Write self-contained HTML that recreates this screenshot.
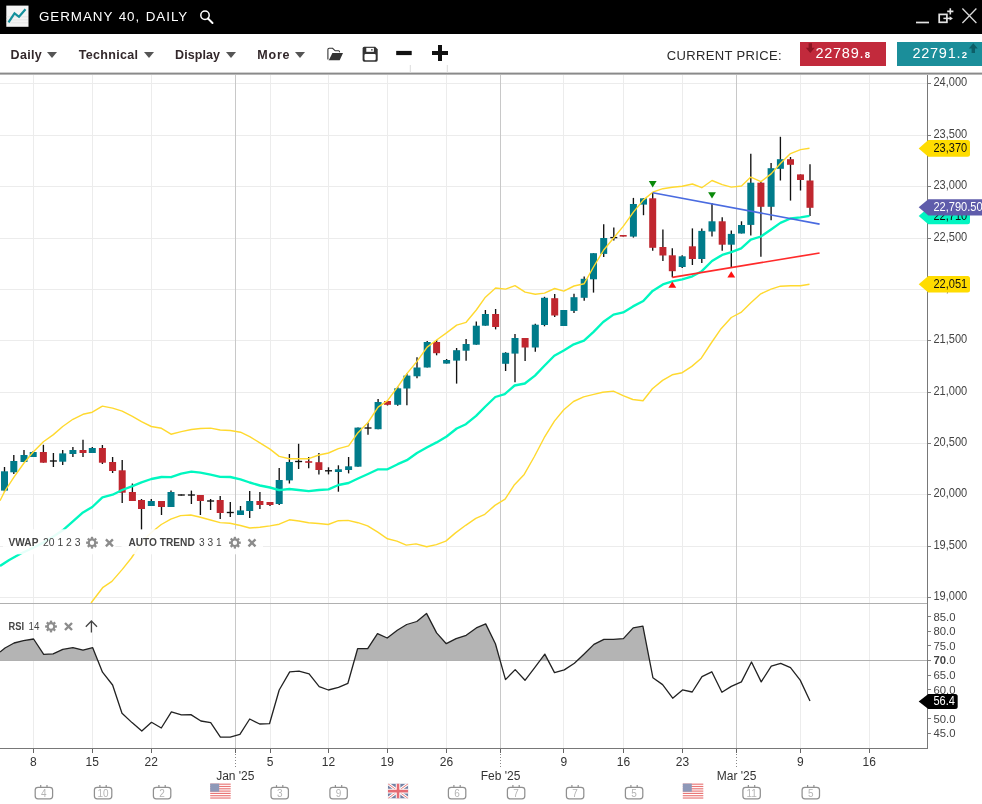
<!DOCTYPE html>
<html><head><meta charset="utf-8"><title>Germany 40, Daily</title>
<style>
html,body{margin:0;padding:0;background:#fff;}
body{width:982px;height:804px;position:relative;overflow:hidden;font-family:"Liberation Sans",sans-serif;}
.abs{position:absolute;white-space:nowrap;}
#hdr{left:0;top:0;width:982px;height:34.2px;background:#000;}
#title{left:39px;top:7.5px;color:#fff;font-size:13.4px;letter-spacing:0.95px;word-spacing:0.9px;line-height:17px;}
.tb{top:47px;font-size:12.5px;font-weight:bold;color:#33282b;line-height:16px;}
.arr{top:52.4px;width:0;height:0;border-left:5.6px solid transparent;border-right:5.6px solid transparent;border-top:6.2px solid #555;}
.ind{font-size:10.6px;color:#444;line-height:14px;background:rgba(255,255,255,0.82);padding:1px 3px;}
.ind b{color:#444;}
</style></head><body>
<svg width="982" height="804" viewBox="0 0 982 804" style="position:absolute;left:0;top:0">
<g stroke="#ececec" stroke-width="1" shape-rendering="crispEdges">
<rect x="0" y="83" width="928" height="1" fill="#ececec" stroke="none"/>
<rect x="0" y="135" width="928" height="1" fill="#ececec" stroke="none"/>
<rect x="0" y="186" width="928" height="1" fill="#ececec" stroke="none"/>
<rect x="0" y="238" width="928" height="1" fill="#ececec" stroke="none"/>
<rect x="0" y="289" width="928" height="1" fill="#ececec" stroke="none"/>
<rect x="0" y="340" width="928" height="1" fill="#ececec" stroke="none"/>
<rect x="0" y="392" width="928" height="1" fill="#ececec" stroke="none"/>
<rect x="0" y="443" width="928" height="1" fill="#ececec" stroke="none"/>
<rect x="0" y="494" width="928" height="1" fill="#ececec" stroke="none"/>
<rect x="0" y="546" width="928" height="1" fill="#ececec" stroke="none"/>
<rect x="0" y="597" width="928" height="1" fill="#ececec" stroke="none"/>
<rect x="33" y="75" width="1" height="673" fill="#ececec" stroke="none"/>
<rect x="92" y="75" width="1" height="673" fill="#ececec" stroke="none"/>
<rect x="151" y="75" width="1" height="673" fill="#ececec" stroke="none"/>
<rect x="269.5" y="75" width="1" height="673" fill="#ececec" stroke="none"/>
<rect x="328" y="75" width="1" height="673" fill="#ececec" stroke="none"/>
<rect x="387" y="75" width="1" height="673" fill="#ececec" stroke="none"/>
<rect x="446" y="75" width="1" height="673" fill="#ececec" stroke="none"/>
<rect x="563.3" y="75" width="1" height="673" fill="#ececec" stroke="none"/>
<rect x="623" y="75" width="1" height="673" fill="#ececec" stroke="none"/>
<rect x="682" y="75" width="1" height="673" fill="#ececec" stroke="none"/>
<rect x="800" y="75" width="1" height="673" fill="#ececec" stroke="none"/>
<rect x="869" y="75" width="1" height="673" fill="#ececec" stroke="none"/>
</g>
<g stroke="#c8c8c8" stroke-width="1" shape-rendering="crispEdges">
<rect x="235" y="75" width="1" height="673" fill="#c8c8c8" stroke="none"/>
<rect x="500.3" y="75" width="1" height="673" fill="#c8c8c8" stroke="none"/>
<rect x="736.2" y="75" width="1" height="673" fill="#c8c8c8" stroke="none"/>
</g>
<rect x="0" y="603.5" width="927" height="144" fill="#fff"/>
<g stroke="#ececec" stroke-width="1" shape-rendering="crispEdges">
<rect x="33" y="604" width="1" height="144" fill="#ececec" stroke="none"/>
<rect x="92" y="604" width="1" height="144" fill="#ececec" stroke="none"/>
<rect x="151" y="604" width="1" height="144" fill="#ececec" stroke="none"/>
<rect x="269.5" y="604" width="1" height="144" fill="#ececec" stroke="none"/>
<rect x="328" y="604" width="1" height="144" fill="#ececec" stroke="none"/>
<rect x="387" y="604" width="1" height="144" fill="#ececec" stroke="none"/>
<rect x="446" y="604" width="1" height="144" fill="#ececec" stroke="none"/>
<rect x="563.3" y="604" width="1" height="144" fill="#ececec" stroke="none"/>
<rect x="623" y="604" width="1" height="144" fill="#ececec" stroke="none"/>
<rect x="682" y="604" width="1" height="144" fill="#ececec" stroke="none"/>
<rect x="800" y="604" width="1" height="144" fill="#ececec" stroke="none"/>
<rect x="869" y="604" width="1" height="144" fill="#ececec" stroke="none"/>
</g><g stroke="#c8c8c8" stroke-width="1" shape-rendering="crispEdges">
<rect x="235" y="604" width="1" height="144" fill="#c8c8c8" stroke="none"/>
<rect x="500.3" y="604" width="1" height="144" fill="#c8c8c8" stroke="none"/>
<rect x="736.2" y="604" width="1" height="144" fill="#c8c8c8" stroke="none"/>
</g>
<g>
<line x1="4.5" y1="467" x2="4.5" y2="491.6" stroke="#111" stroke-width="1.35"/>
<rect x="1.0" y="471.3" width="7" height="19.3" fill="#007b8a"/>
<line x1="13.8" y1="455" x2="13.8" y2="474" stroke="#111" stroke-width="1.35"/>
<rect x="10.3" y="461" width="7" height="11.3" fill="#007b8a"/>
<line x1="24" y1="450" x2="24" y2="462" stroke="#111" stroke-width="1.35"/>
<rect x="20.5" y="455" width="7" height="7.0" fill="#007b8a"/>
<line x1="33.2" y1="451" x2="33.2" y2="457" stroke="#111" stroke-width="1.35"/>
<rect x="29.7" y="452" width="7" height="5.0" fill="#007b8a"/>
<line x1="43.4" y1="444.8" x2="43.4" y2="462.7" stroke="#111" stroke-width="1.35"/>
<rect x="39.9" y="452" width="7" height="10.7" fill="#c0272f"/>
<line x1="53.4" y1="453" x2="53.4" y2="467" stroke="#111" stroke-width="1.35"/>
<line x1="49.9" y1="461.0" x2="56.9" y2="461.0" stroke="#111" stroke-width="1.35"/>
<line x1="62.7" y1="450" x2="62.7" y2="465" stroke="#111" stroke-width="1.35"/>
<rect x="59.2" y="453.4" width="7" height="8.3" fill="#007b8a"/>
<line x1="72.9" y1="447" x2="72.9" y2="457" stroke="#111" stroke-width="1.35"/>
<rect x="69.4" y="450" width="7" height="4.0" fill="#007b8a"/>
<line x1="83" y1="439.7" x2="83" y2="457" stroke="#111" stroke-width="1.35"/>
<rect x="79.5" y="450" width="7" height="3.0" fill="#c0272f"/>
<line x1="92.3" y1="447" x2="92.3" y2="453" stroke="#111" stroke-width="1.35"/>
<rect x="88.8" y="448" width="7" height="5.0" fill="#007b8a"/>
<line x1="102.4" y1="445" x2="102.4" y2="464" stroke="#111" stroke-width="1.35"/>
<rect x="98.9" y="448" width="7" height="14.7" fill="#c0272f"/>
<line x1="112.6" y1="457" x2="112.6" y2="473" stroke="#111" stroke-width="1.35"/>
<rect x="109.1" y="462" width="7" height="9.0" fill="#c0272f"/>
<line x1="122.2" y1="460" x2="122.2" y2="503" stroke="#111" stroke-width="1.35"/>
<rect x="118.7" y="470.3" width="7" height="22.4" fill="#c0272f"/>
<line x1="132.4" y1="483.5" x2="132.4" y2="501" stroke="#111" stroke-width="1.35"/>
<rect x="128.9" y="492" width="7" height="9.0" fill="#c0272f"/>
<line x1="141.5" y1="499" x2="141.5" y2="530" stroke="#111" stroke-width="1.35"/>
<rect x="138.0" y="500" width="7" height="9.0" fill="#c0272f"/>
<line x1="151.3" y1="499" x2="151.3" y2="506" stroke="#111" stroke-width="1.35"/>
<rect x="147.8" y="501" width="7" height="5.0" fill="#007b8a"/>
<line x1="161.5" y1="501" x2="161.5" y2="515" stroke="#111" stroke-width="1.35"/>
<rect x="158.0" y="501" width="7" height="6.0" fill="#c0272f"/>
<line x1="171" y1="490.6" x2="171" y2="507" stroke="#111" stroke-width="1.35"/>
<rect x="167.5" y="492" width="7" height="15.0" fill="#007b8a"/>
<line x1="181.3" y1="494.5" x2="181.3" y2="495.5" stroke="#111" stroke-width="1.35"/>
<line x1="177.8" y1="495.0" x2="184.8" y2="495.0" stroke="#111" stroke-width="1.35"/>
<line x1="191.4" y1="490.6" x2="191.4" y2="504" stroke="#111" stroke-width="1.35"/>
<line x1="187.9" y1="495.0" x2="194.9" y2="495.0" stroke="#111" stroke-width="1.35"/>
<line x1="200.4" y1="495" x2="200.4" y2="515" stroke="#111" stroke-width="1.35"/>
<rect x="196.9" y="495" width="7" height="6.0" fill="#c0272f"/>
<line x1="210.6" y1="499" x2="210.6" y2="510" stroke="#111" stroke-width="1.35"/>
<line x1="207.1" y1="501.0" x2="214.1" y2="501.0" stroke="#111" stroke-width="1.35"/>
<line x1="220.2" y1="496" x2="220.2" y2="519" stroke="#111" stroke-width="1.35"/>
<rect x="216.7" y="500" width="7" height="13.0" fill="#c0272f"/>
<line x1="230.3" y1="502" x2="230.3" y2="517" stroke="#111" stroke-width="1.35"/>
<line x1="226.8" y1="512.5" x2="233.8" y2="512.5" stroke="#111" stroke-width="1.35"/>
<line x1="240.5" y1="506" x2="240.5" y2="515" stroke="#111" stroke-width="1.35"/>
<rect x="237.0" y="510.4" width="7" height="4.6" fill="#007b8a"/>
<line x1="249.7" y1="491" x2="249.7" y2="518" stroke="#111" stroke-width="1.35"/>
<rect x="246.2" y="501" width="7" height="10.0" fill="#007b8a"/>
<line x1="259.9" y1="492" x2="259.9" y2="509" stroke="#111" stroke-width="1.35"/>
<rect x="256.4" y="501" width="7" height="4.0" fill="#c0272f"/>
<line x1="270" y1="502" x2="270" y2="506" stroke="#111" stroke-width="1.35"/>
<rect x="266.5" y="502" width="7" height="3.0" fill="#c0272f"/>
<line x1="279.2" y1="468" x2="279.2" y2="505" stroke="#111" stroke-width="1.35"/>
<rect x="275.7" y="480" width="7" height="24.0" fill="#007b8a"/>
<line x1="289.4" y1="454" x2="289.4" y2="483.5" stroke="#111" stroke-width="1.35"/>
<rect x="285.9" y="462" width="7" height="18.4" fill="#007b8a"/>
<line x1="298.6" y1="443.8" x2="298.6" y2="469" stroke="#111" stroke-width="1.35"/>
<line x1="295.1" y1="461.5" x2="302.1" y2="461.5" stroke="#111" stroke-width="1.35"/>
<line x1="308.7" y1="457" x2="308.7" y2="468.3" stroke="#111" stroke-width="1.35"/>
<rect x="305.2" y="461.2" width="7" height="1.6" fill="#c0272f"/>
<line x1="318.9" y1="453" x2="318.9" y2="474.4" stroke="#111" stroke-width="1.35"/>
<rect x="315.4" y="462.2" width="7" height="7.8" fill="#c0272f"/>
<line x1="328.5" y1="467.3" x2="328.5" y2="474.4" stroke="#111" stroke-width="1.35"/>
<line x1="325.0" y1="470.8" x2="332.0" y2="470.8" stroke="#111" stroke-width="1.35"/>
<line x1="338.4" y1="465.3" x2="338.4" y2="491.7" stroke="#111" stroke-width="1.35"/>
<rect x="334.9" y="469.3" width="7" height="2.7" fill="#007b8a"/>
<line x1="348.6" y1="457" x2="348.6" y2="473.4" stroke="#111" stroke-width="1.35"/>
<rect x="345.1" y="466.3" width="7" height="3.7" fill="#007b8a"/>
<line x1="358" y1="427.6" x2="358" y2="466.7" stroke="#111" stroke-width="1.35"/>
<rect x="354.5" y="427.6" width="7" height="39.1" fill="#007b8a"/>
<line x1="368" y1="422.5" x2="368" y2="434.7" stroke="#111" stroke-width="1.35"/>
<line x1="364.5" y1="428.0" x2="371.5" y2="428.0" stroke="#111" stroke-width="1.35"/>
<line x1="378.1" y1="399" x2="378.1" y2="429.2" stroke="#111" stroke-width="1.35"/>
<rect x="374.6" y="402" width="7" height="27.2" fill="#007b8a"/>
<line x1="387.5" y1="401" x2="387.5" y2="405.5" stroke="#111" stroke-width="1.35"/>
<rect x="384.0" y="401" width="7" height="3.8" fill="#c0272f"/>
<line x1="397.7" y1="386.8" x2="397.7" y2="405.8" stroke="#111" stroke-width="1.35"/>
<rect x="394.2" y="388.3" width="7" height="16.5" fill="#007b8a"/>
<line x1="406.9" y1="373.6" x2="406.9" y2="405.2" stroke="#111" stroke-width="1.35"/>
<rect x="403.4" y="375.6" width="7" height="12.9" fill="#007b8a"/>
<line x1="417" y1="357.3" x2="417" y2="378.3" stroke="#111" stroke-width="1.35"/>
<rect x="413.5" y="367.5" width="7" height="8.8" fill="#007b8a"/>
<line x1="427.2" y1="341" x2="427.2" y2="367.5" stroke="#111" stroke-width="1.35"/>
<rect x="423.7" y="342" width="7" height="25.5" fill="#007b8a"/>
<line x1="436.6" y1="340" x2="436.6" y2="355.3" stroke="#111" stroke-width="1.35"/>
<rect x="433.1" y="342" width="7" height="11.2" fill="#c0272f"/>
<line x1="446.6" y1="359" x2="446.6" y2="363.6" stroke="#111" stroke-width="1.35"/>
<rect x="443.1" y="360" width="7" height="3.6" fill="#007b8a"/>
<line x1="456.6" y1="348" x2="456.6" y2="383.6" stroke="#111" stroke-width="1.35"/>
<rect x="453.1" y="350.2" width="7" height="10.4" fill="#007b8a"/>
<line x1="466.1" y1="339" x2="466.1" y2="360.7" stroke="#111" stroke-width="1.35"/>
<rect x="462.6" y="344" width="7" height="6.7" fill="#007b8a"/>
<line x1="476.3" y1="321.6" x2="476.3" y2="344.7" stroke="#111" stroke-width="1.35"/>
<rect x="472.8" y="325.7" width="7" height="19.0" fill="#007b8a"/>
<line x1="485.4" y1="310" x2="485.4" y2="325.7" stroke="#111" stroke-width="1.35"/>
<rect x="481.9" y="314" width="7" height="11.7" fill="#007b8a"/>
<line x1="495.6" y1="309" x2="495.6" y2="329.4" stroke="#111" stroke-width="1.35"/>
<rect x="492.1" y="314" width="7" height="13.0" fill="#c0272f"/>
<line x1="505.6" y1="352.2" x2="505.6" y2="371" stroke="#111" stroke-width="1.35"/>
<rect x="502.1" y="352.8" width="7" height="11.0" fill="#007b8a"/>
<line x1="515" y1="333.9" x2="515" y2="382.3" stroke="#111" stroke-width="1.35"/>
<rect x="511.5" y="338" width="7" height="15.6" fill="#007b8a"/>
<line x1="525.1" y1="338" x2="525.1" y2="361" stroke="#111" stroke-width="1.35"/>
<rect x="521.6" y="338" width="7" height="9.5" fill="#c0272f"/>
<line x1="535.3" y1="323.7" x2="535.3" y2="351.8" stroke="#111" stroke-width="1.35"/>
<rect x="531.8" y="324.7" width="7" height="22.8" fill="#007b8a"/>
<line x1="544.5" y1="296.8" x2="544.5" y2="326.3" stroke="#111" stroke-width="1.35"/>
<rect x="541.0" y="297.8" width="7" height="27.2" fill="#007b8a"/>
<line x1="554.7" y1="294" x2="554.7" y2="317" stroke="#111" stroke-width="1.35"/>
<rect x="551.2" y="298.2" width="7" height="17.3" fill="#c0272f"/>
<line x1="563.8" y1="310" x2="563.8" y2="326" stroke="#111" stroke-width="1.35"/>
<rect x="560.3" y="310" width="7" height="16.0" fill="#007b8a"/>
<line x1="574" y1="293.7" x2="574" y2="313" stroke="#111" stroke-width="1.35"/>
<rect x="570.5" y="297.2" width="7" height="13.7" fill="#007b8a"/>
<line x1="584.2" y1="276.4" x2="584.2" y2="300.8" stroke="#111" stroke-width="1.35"/>
<rect x="580.7" y="278.8" width="7" height="19.0" fill="#007b8a"/>
<line x1="593.5" y1="253.2" x2="593.5" y2="292.6" stroke="#111" stroke-width="1.35"/>
<rect x="590.0" y="253.2" width="7" height="26.1" fill="#007b8a"/>
<line x1="603.7" y1="224.3" x2="603.7" y2="257" stroke="#111" stroke-width="1.35"/>
<rect x="600.2" y="238" width="7" height="15.9" fill="#007b8a"/>
<line x1="613.8" y1="227.4" x2="613.8" y2="240.6" stroke="#111" stroke-width="1.35"/>
<line x1="610.3" y1="237.6" x2="617.3" y2="237.6" stroke="#111" stroke-width="1.35"/>
<line x1="623.2" y1="235" x2="623.2" y2="236.6" stroke="#111" stroke-width="1.35"/>
<rect x="619.7" y="235" width="7" height="1.6" fill="#c0272f"/>
<line x1="633.4" y1="197.9" x2="633.4" y2="237.6" stroke="#111" stroke-width="1.35"/>
<rect x="629.9" y="204" width="7" height="32.6" fill="#007b8a"/>
<line x1="643.5" y1="198.3" x2="643.5" y2="215.2" stroke="#111" stroke-width="1.35"/>
<rect x="640.0" y="198.3" width="7" height="6.3" fill="#007b8a"/>
<line x1="652.7" y1="192.8" x2="652.7" y2="250.8" stroke="#111" stroke-width="1.35"/>
<rect x="649.2" y="198.3" width="7" height="49.5" fill="#c0272f"/>
<line x1="662.9" y1="229.4" x2="662.9" y2="261" stroke="#111" stroke-width="1.35"/>
<rect x="659.4" y="247" width="7" height="8.5" fill="#c0272f"/>
<line x1="672.3" y1="248.2" x2="672.3" y2="277.3" stroke="#111" stroke-width="1.35"/>
<rect x="668.8" y="255.3" width="7" height="15.9" fill="#c0272f"/>
<line x1="682.2" y1="255.3" x2="682.2" y2="268" stroke="#111" stroke-width="1.35"/>
<rect x="678.7" y="256.3" width="7" height="10.7" fill="#007b8a"/>
<line x1="692.4" y1="228.4" x2="692.4" y2="265" stroke="#111" stroke-width="1.35"/>
<rect x="688.9" y="246.3" width="7" height="12.7" fill="#c0272f"/>
<line x1="701.8" y1="228.4" x2="701.8" y2="263" stroke="#111" stroke-width="1.35"/>
<rect x="698.3" y="230.9" width="7" height="28.1" fill="#007b8a"/>
<line x1="712" y1="203" x2="712" y2="236.6" stroke="#111" stroke-width="1.35"/>
<rect x="708.5" y="221.3" width="7" height="10.2" fill="#007b8a"/>
<line x1="722.2" y1="217.2" x2="722.2" y2="250.8" stroke="#111" stroke-width="1.35"/>
<rect x="718.7" y="221.3" width="7" height="23.4" fill="#c0272f"/>
<line x1="731.3" y1="230.4" x2="731.3" y2="267.1" stroke="#111" stroke-width="1.35"/>
<rect x="727.8" y="233.9" width="7" height="10.8" fill="#007b8a"/>
<line x1="741.5" y1="221.3" x2="741.5" y2="233.5" stroke="#111" stroke-width="1.35"/>
<rect x="738.0" y="225" width="7" height="8.5" fill="#007b8a"/>
<line x1="750.8" y1="153.8" x2="750.8" y2="235.4" stroke="#111" stroke-width="1.35"/>
<rect x="747.3" y="182.7" width="7" height="42.2" fill="#007b8a"/>
<line x1="760.9" y1="181.6" x2="760.9" y2="256.8" stroke="#111" stroke-width="1.35"/>
<rect x="757.4" y="182.7" width="7" height="24.1" fill="#c0272f"/>
<line x1="771.1" y1="163.1" x2="771.1" y2="220.2" stroke="#111" stroke-width="1.35"/>
<rect x="767.6" y="168.2" width="7" height="38.6" fill="#007b8a"/>
<line x1="780.4" y1="136.8" x2="780.4" y2="180.5" stroke="#111" stroke-width="1.35"/>
<rect x="776.9" y="159.2" width="7" height="9.6" fill="#007b8a"/>
<line x1="790.5" y1="157" x2="790.5" y2="200.6" stroke="#111" stroke-width="1.35"/>
<rect x="787.0" y="159.2" width="7" height="5.6" fill="#c0272f"/>
<line x1="800.5" y1="174.4" x2="800.5" y2="190.5" stroke="#111" stroke-width="1.35"/>
<rect x="797.0" y="174.4" width="7" height="5.6" fill="#c0272f"/>
<line x1="810" y1="164.3" x2="810" y2="215.9" stroke="#111" stroke-width="1.35"/>
<rect x="806.5" y="180.5" width="7" height="27.3" fill="#c0272f"/>
</g>
<polyline points="0.0,500.8 4.5,491.6 13.8,477.4 24.0,463.0 33.2,452.0 43.4,441.8 53.4,434.6 62.7,426.5 72.9,419.3 83.0,414.3 92.3,412.2 102.4,406.1 112.6,408.1 122.2,411.2 132.4,416.3 141.5,421.7 151.3,426.5 161.5,428.3 171.0,434.2 181.3,431.6 191.4,429.5 200.4,428.5 210.6,428.1 220.2,430.0 230.3,430.5 240.5,432.2 249.7,436.7 259.9,442.8 270.0,449.1 279.2,456.4 289.4,458.7 298.5,458.7 308.7,458.7 318.9,455.0 328.5,453.0 338.4,448.6 348.6,445.9 358.0,432.7 368.0,422.5 378.1,407.2 387.5,400.7 397.7,386.8 406.9,373.6 417.0,361.4 427.2,347.1 436.6,340.0 446.5,332.9 456.7,325.1 466.1,322.3 476.3,310.0 485.4,297.2 495.6,288.0 505.6,289.1 515.0,285.6 525.1,292.1 535.3,294.2 544.5,293.1 554.7,288.5 563.8,291.1 574.0,286.0 584.2,283.7 593.5,267.0 603.7,250.0 613.8,237.8 623.2,226.4 633.4,212.1 643.5,199.9 652.7,192.2 662.9,188.7 672.3,187.3 682.2,186.3 692.4,184.0 701.8,187.7 712.0,180.5 722.2,184.6 731.3,187.1 741.5,186.0 750.8,177.1 760.9,181.6 771.1,173.9 780.4,163.5 790.5,153.6 800.5,149.6 809.5,148.2" fill="none" stroke="#ffd92f" stroke-width="1.4" stroke-linejoin="round"/>
<polyline points="91.0,603.0 103.0,587.3 111.9,581.4 122.3,569.4 131.4,558.0 141.6,542.6 151.3,532.5 161.3,524.5 170.8,519.2 180.6,515.6 190.8,515.0 200.4,517.3 210.5,520.0 220.1,522.6 230.0,523.2 240.4,525.5 249.8,528.0 259.9,527.3 270.0,525.9 279.2,524.2 289.4,519.8 298.9,521.0 308.6,522.7 318.5,523.5 328.2,524.5 338.4,520.7 348.0,520.4 358.0,522.7 367.6,525.8 377.8,532.2 387.5,538.8 396.9,541.1 406.3,545.1 416.0,543.9 426.7,546.7 436.4,544.6 445.8,541.1 455.5,532.9 465.7,525.3 475.8,518.4 484.8,514.3 494.9,505.4 505.1,499.1 514.0,485.3 524.2,474.4 534.4,456.5 544.2,437.7 554.4,421.1 563.8,409.7 573.5,401.5 583.6,396.9 593.8,394.4 602.7,392.3 613.4,391.1 623.1,395.7 632.8,399.5 643.0,400.7 652.4,388.8 662.6,380.4 672.2,374.8 682.2,372.7 691.8,366.4 701.3,358.2 710.9,343.5 721.1,328.7 731.3,317.5 741.0,312.4 750.6,303.0 760.8,293.8 771.1,289.2 780.4,286.2 790.5,285.7 800.5,285.7 809.5,284.2" fill="none" stroke="#ffd92f" stroke-width="1.4" stroke-linejoin="round"/>
<polyline points="0.0,566.0 9.2,560.0 20.4,553.8 33.2,547.7 43.4,542.6 53.4,536.5 62.7,530.3 72.9,521.4 83.0,512.4 92.3,507.0 102.4,497.3 112.6,494.7 122.2,490.0 132.4,486.2 141.5,482.3 151.3,479.0 161.5,477.0 171.0,477.2 181.3,473.7 191.4,471.7 200.4,472.7 210.6,474.7 220.2,476.8 230.3,477.0 240.5,479.4 249.7,482.5 259.9,485.5 270.0,487.5 279.2,490.2 289.4,489.0 298.5,490.0 308.7,491.1 318.9,490.0 328.5,489.3 338.4,485.0 348.6,483.0 358.0,478.5 368.0,474.0 378.1,469.3 387.5,469.3 397.7,464.2 406.9,460.2 417.0,453.0 427.2,447.3 436.6,442.4 446.6,436.5 456.7,428.5 465.9,424.2 476.1,415.9 485.4,406.5 495.3,397.0 504.7,394.1 514.6,385.5 524.8,383.5 535.0,375.6 544.4,365.8 554.3,355.7 563.8,350.5 573.8,344.3 584.0,340.7 593.6,331.9 603.2,322.0 613.5,314.6 623.2,312.4 633.0,306.4 643.3,301.0 652.6,290.9 662.9,284.4 672.3,281.4 682.2,279.3 692.4,276.3 701.8,271.2 712.0,261.0 722.2,254.9 731.3,252.2 741.2,248.3 750.8,239.7 760.9,236.5 771.1,229.5 780.4,222.9 790.5,218.5 800.5,217.4 809.5,215.9" fill="none" stroke="#00f7c0" stroke-width="2.35" stroke-linejoin="round"/>
<line x1="652.7" y1="192.8" x2="819.6" y2="224.1" stroke="#4a6be0" stroke-width="1.6"/>
<line x1="672.3" y1="277.3" x2="819.6" y2="253" stroke="#ff2a2a" stroke-width="1.7"/>
<polygon points="648.8,181 656.6,181 652.7,187.4" fill="#0a8a0a"/>
<polygon points="708.1,192.2 715.9,192.2 712,198.6" fill="#0a8a0a"/>
<polygon points="668.4,287.79999999999995 676.2,287.79999999999995 672.3,281.4" fill="#ff1010"/>
<polygon points="727.4,277.59999999999997 735.2,277.59999999999997 731.3,271.2" fill="#ff1010"/>
<polygon points="0.0,660.5 0.0,652.1 5.0,648.0 14.1,643.0 23.5,640.7 33.6,639.0 43.7,654.4 53.1,653.8 62.8,649.4 72.9,647.7 83.0,650.1 92.7,647.7 97.8,660.5" fill="#b4b4b4"/>
<polygon points="354.3,660.5 357.6,648.7 367.7,648.7 377.5,633.6 387.2,638.0 397.3,630.2 406.7,624.5 416.8,621.5 426.5,613.4 436.6,632.9 446.3,643.7 456.1,638.6 466.2,635.3 476.3,627.9 485.7,623.9 495.4,643.7 500.1,660.5" fill="#b4b4b4"/>
<polygon points="540.1,660.5 544.8,654.1 548.2,660.5" fill="#b4b4b4"/>
<polygon points="577.3,660.5 584.4,653.8 593.9,644.4 603.9,639.3 613.3,639.3 623.4,638.6 633.2,627.9 642.9,626.2 649.6,660.5" fill="#b4b4b4"/>
<line x1="0" y1="660.5" x2="928" y2="660.5" stroke="#b0b0b0" stroke-width="1" shape-rendering="crispEdges"/>
<polyline points="0.0,652.1 5.0,648.0 14.1,643.0 23.5,640.7 33.6,639.0 43.7,654.4 53.1,653.8 62.8,649.4 72.9,647.7 83.0,650.1 92.7,647.7 102.5,672.2 112.6,685.0 122.0,713.2 132.0,722.6 141.8,731.0 151.5,722.3 161.3,728.0 171.4,711.9 181.4,714.9 190.9,714.6 200.9,721.0 210.7,722.6 220.4,737.1 230.2,737.1 239.9,734.4 249.7,719.0 259.7,724.0 269.5,723.7 279.2,690.0 289.7,671.9 299.0,671.2 309.1,673.9 319.2,686.7 328.4,690.0 338.5,687.4 347.9,683.3 357.6,648.7 367.7,648.7 377.5,633.6 387.2,638.0 397.3,630.2 406.7,624.5 416.8,621.5 426.5,613.4 436.6,632.9 446.3,643.7 456.1,638.6 466.2,635.3 476.3,627.9 485.7,623.9 495.4,643.7 505.5,679.6 515.2,669.6 525.0,680.3 535.1,667.2 544.8,654.1 554.5,672.6 564.3,669.9 574.4,663.2 584.4,653.8 593.9,644.4 603.9,639.3 613.3,639.3 623.4,638.6 633.2,627.9 642.9,626.2 652.9,677.7 662.6,684.6 672.7,698.2 682.5,689.9 692.2,692.0 702.0,676.6 711.8,671.8 721.9,692.3 731.3,686.4 741.4,681.9 751.5,662.0 761.2,681.9 771.3,666.2 780.7,663.4 790.5,667.6 800.2,680.1 810.0,701.0" fill="none" stroke="#222" stroke-width="1.3" stroke-linejoin="round"/>
<rect x="0" y="72.6" width="982" height="2" fill="#8a8a8a"/>
<line x1="0" y1="603.5" x2="928" y2="603.5" stroke="#b0b0b0" stroke-width="1" shape-rendering="crispEdges"/>
<line x1="0" y1="748.5" x2="928" y2="748.5" stroke="#787878" stroke-width="1" shape-rendering="crispEdges"/>
<line x1="927.5" y1="75" x2="927.5" y2="748.5" stroke="#787878" stroke-width="1" shape-rendering="crispEdges"/>
<g font-family="Liberation Sans, sans-serif" font-size="12" fill="#444">
<line x1="928" y1="83.5" x2="930.5" y2="83.5" stroke="#808080" stroke-width="1" shape-rendering="crispEdges"/>
<text x="933.4" y="86.2" textLength="33.8" lengthAdjust="spacingAndGlyphs">24,000</text>
<line x1="928" y1="135.5" x2="930.5" y2="135.5" stroke="#808080" stroke-width="1" shape-rendering="crispEdges"/>
<text x="933.4" y="138.2" textLength="33.8" lengthAdjust="spacingAndGlyphs">23,500</text>
<line x1="928" y1="186.5" x2="930.5" y2="186.5" stroke="#808080" stroke-width="1" shape-rendering="crispEdges"/>
<text x="933.4" y="189.2" textLength="33.8" lengthAdjust="spacingAndGlyphs">23,000</text>
<line x1="928" y1="238.5" x2="930.5" y2="238.5" stroke="#808080" stroke-width="1" shape-rendering="crispEdges"/>
<text x="933.4" y="241.2" textLength="33.8" lengthAdjust="spacingAndGlyphs">22,500</text>
<line x1="928" y1="289.5" x2="930.5" y2="289.5" stroke="#808080" stroke-width="1" shape-rendering="crispEdges"/>
<text x="933.4" y="292.2" textLength="33.8" lengthAdjust="spacingAndGlyphs">22,000</text>
<line x1="928" y1="340.5" x2="930.5" y2="340.5" stroke="#808080" stroke-width="1" shape-rendering="crispEdges"/>
<text x="933.4" y="343.2" textLength="33.8" lengthAdjust="spacingAndGlyphs">21,500</text>
<line x1="928" y1="392.5" x2="930.5" y2="392.5" stroke="#808080" stroke-width="1" shape-rendering="crispEdges"/>
<text x="933.4" y="395.2" textLength="33.8" lengthAdjust="spacingAndGlyphs">21,000</text>
<line x1="928" y1="443.5" x2="930.5" y2="443.5" stroke="#808080" stroke-width="1" shape-rendering="crispEdges"/>
<text x="933.4" y="446.2" textLength="33.8" lengthAdjust="spacingAndGlyphs">20,500</text>
<line x1="928" y1="494.5" x2="930.5" y2="494.5" stroke="#808080" stroke-width="1" shape-rendering="crispEdges"/>
<text x="933.4" y="497.2" textLength="33.8" lengthAdjust="spacingAndGlyphs">20,000</text>
<line x1="928" y1="546.5" x2="930.5" y2="546.5" stroke="#808080" stroke-width="1" shape-rendering="crispEdges"/>
<text x="933.4" y="549.2" textLength="33.8" lengthAdjust="spacingAndGlyphs">19,500</text>
<line x1="928" y1="597.5" x2="930.5" y2="597.5" stroke="#808080" stroke-width="1" shape-rendering="crispEdges"/>
<text x="933.4" y="600.2" textLength="33.8" lengthAdjust="spacingAndGlyphs">19,000</text>
</g>
<g font-family="Liberation Sans, sans-serif" font-size="11.5" fill="#444">
<line x1="928" y1="616.7" x2="930.5" y2="616.7" stroke="#808080" stroke-width="1" shape-rendering="crispEdges"/>
<text x="933.5" y="620.5" textLength="22" lengthAdjust="spacingAndGlyphs">85.0</text>
<line x1="928" y1="631.3" x2="930.5" y2="631.3" stroke="#808080" stroke-width="1" shape-rendering="crispEdges"/>
<text x="933.5" y="635.1" textLength="22" lengthAdjust="spacingAndGlyphs">80.0</text>
<line x1="928" y1="645.9" x2="930.5" y2="645.9" stroke="#808080" stroke-width="1" shape-rendering="crispEdges"/>
<text x="933.5" y="649.7" textLength="22" lengthAdjust="spacingAndGlyphs">75.0</text>
<line x1="928" y1="660.5" x2="930.5" y2="660.5" stroke="#808080" stroke-width="1" shape-rendering="crispEdges"/>
<text x="933.5" y="664.3" textLength="22" lengthAdjust="spacingAndGlyphs"><tspan font-weight="bold">70</tspan>.0</text>
<line x1="928" y1="675.1" x2="930.5" y2="675.1" stroke="#808080" stroke-width="1" shape-rendering="crispEdges"/>
<text x="933.5" y="678.9" textLength="22" lengthAdjust="spacingAndGlyphs">65.0</text>
<line x1="928" y1="689.7" x2="930.5" y2="689.7" stroke="#808080" stroke-width="1" shape-rendering="crispEdges"/>
<text x="933.5" y="693.5" textLength="22" lengthAdjust="spacingAndGlyphs">60.0</text>
<line x1="928" y1="718.9" x2="930.5" y2="718.9" stroke="#808080" stroke-width="1" shape-rendering="crispEdges"/>
<text x="933.5" y="722.7" textLength="22" lengthAdjust="spacingAndGlyphs">50.0</text>
<line x1="928" y1="733.5" x2="930.5" y2="733.5" stroke="#808080" stroke-width="1" shape-rendering="crispEdges"/>
<text x="933.5" y="737.3" textLength="22" lengthAdjust="spacingAndGlyphs">45.0</text>
</g>
<path d="M918.7,148.4 L928.3,140.1 L967.5,140.1 Q970,140.1 970,142.6 L970,154.2 Q970,156.7 967.5,156.7 L928.3,156.7 Z" fill="#ffdc00"/><text x="933.4" y="152.1" font-family="Liberation Sans, sans-serif" font-size="12" font-weight="normal" fill="#111" textLength="33.8" lengthAdjust="spacingAndGlyphs">23,370</text>
<path d="M918.7,284.2 L928.3,275.9 L967.5,275.9 Q970,275.9 970,278.4 L970,290.0 Q970,292.5 967.5,292.5 L928.3,292.5 Z" fill="#ffdc00"/><text x="933.4" y="287.9" font-family="Liberation Sans, sans-serif" font-size="12" font-weight="normal" fill="#111" textLength="33.8" lengthAdjust="spacingAndGlyphs">22,051</text>
<path d="M918.7,216.0 L928.3,207.8 L967.5,207.8 Q970,207.8 970,210.3 L970,221.7 Q970,224.2 967.5,224.2 L928.3,224.2 Z" fill="#02f5c2"/><text x="933.4" y="219.7" font-family="Liberation Sans, sans-serif" font-size="12" font-weight="normal" fill="#111" textLength="33.8" lengthAdjust="spacingAndGlyphs">22,710</text>
<path d="M918.7,207.3 L928.3,199.2 L990,199.2 Q990,199.2 990,199.2 L990,215.5 Q990,215.5 990,215.5 L928.3,215.5 Z" fill="#5f5cab"/><text x="933.4" y="211.0" font-family="Liberation Sans, sans-serif" font-size="12" font-weight="normal" fill="#fff" textLength="49.2" lengthAdjust="spacingAndGlyphs">22,790.50</text>
<path d="M918.7,701.4 L928.3,693.9 L955.2,693.9 Q957.7,693.9 957.7,696.4 L957.7,706.4 Q957.7,708.9 955.2,708.9 L928.3,708.9 Z" fill="#000"/><text x="933.4" y="705.1" font-family="Liberation Sans, sans-serif" font-size="12" font-weight="normal" fill="#fff" textLength="21.5" lengthAdjust="spacingAndGlyphs">56.4</text>
<g font-family="Liberation Sans, sans-serif" font-size="12" fill="#333" text-anchor="middle">
<line x1="33.3" y1="749" x2="33.3" y2="753" stroke="#666" stroke-width="1" shape-rendering="crispEdges"/>
<text x="33.3" y="766">8</text>
<line x1="92.3" y1="749" x2="92.3" y2="753" stroke="#666" stroke-width="1" shape-rendering="crispEdges"/>
<text x="92.3" y="766">15</text>
<line x1="151.3" y1="749" x2="151.3" y2="753" stroke="#666" stroke-width="1" shape-rendering="crispEdges"/>
<text x="151.3" y="766">22</text>
<line x1="270" y1="749" x2="270" y2="753" stroke="#666" stroke-width="1" shape-rendering="crispEdges"/>
<text x="270" y="766">5</text>
<line x1="328.4" y1="749" x2="328.4" y2="753" stroke="#666" stroke-width="1" shape-rendering="crispEdges"/>
<text x="328.4" y="766">12</text>
<line x1="387.3" y1="749" x2="387.3" y2="753" stroke="#666" stroke-width="1" shape-rendering="crispEdges"/>
<text x="387.3" y="766">19</text>
<line x1="446.5" y1="749" x2="446.5" y2="753" stroke="#666" stroke-width="1" shape-rendering="crispEdges"/>
<text x="446.5" y="766">26</text>
<line x1="563.8" y1="749" x2="563.8" y2="753" stroke="#666" stroke-width="1" shape-rendering="crispEdges"/>
<text x="563.8" y="766">9</text>
<line x1="623.5" y1="749" x2="623.5" y2="753" stroke="#666" stroke-width="1" shape-rendering="crispEdges"/>
<text x="623.5" y="766">16</text>
<line x1="682.5" y1="749" x2="682.5" y2="753" stroke="#666" stroke-width="1" shape-rendering="crispEdges"/>
<text x="682.5" y="766">23</text>
<line x1="800.3" y1="749" x2="800.3" y2="753" stroke="#666" stroke-width="1" shape-rendering="crispEdges"/>
<text x="800.3" y="766">9</text>
<line x1="869.3" y1="749" x2="869.3" y2="753" stroke="#666" stroke-width="1" shape-rendering="crispEdges"/>
<text x="869.3" y="766">16</text>
<line x1="235.3" y1="749" x2="235.3" y2="753" stroke="#666" stroke-width="1" shape-rendering="crispEdges"/>
<line x1="235.3" y1="754" x2="235.3" y2="768" stroke="#888" stroke-width="1" stroke-dasharray="1,2" shape-rendering="crispEdges"/>
<text x="235.3" y="780">Jan '25</text>
<line x1="500.6" y1="749" x2="500.6" y2="753" stroke="#666" stroke-width="1" shape-rendering="crispEdges"/>
<line x1="500.6" y1="754" x2="500.6" y2="768" stroke="#888" stroke-width="1" stroke-dasharray="1,2" shape-rendering="crispEdges"/>
<text x="500.6" y="780">Feb '25</text>
<line x1="736.6" y1="749" x2="736.6" y2="753" stroke="#666" stroke-width="1" shape-rendering="crispEdges"/>
<line x1="736.6" y1="754" x2="736.6" y2="768" stroke="#888" stroke-width="1" stroke-dasharray="1,2" shape-rendering="crispEdges"/>
<text x="736.6" y="780">Mar '25</text>
</g>
<g transform="translate(34.6,786.7)"><rect x="0.6" y="0.6" width="17.4" height="11.6" rx="2.8" fill="#fff" stroke="#909090" stroke-width="1.25"/><line x1="6.1" y1="-1.6" x2="6.1" y2="1" stroke="#909090" stroke-width="1.2"/><line x1="12.4" y1="-1.6" x2="12.4" y2="1" stroke="#909090" stroke-width="1.2"/><text x="9.3" y="10.2" font-family="Liberation Sans, sans-serif" font-size="10" fill="#b4b4b4" text-anchor="middle">4</text></g>
<g transform="translate(93.8,786.7)"><rect x="0.6" y="0.6" width="17.4" height="11.6" rx="2.8" fill="#fff" stroke="#909090" stroke-width="1.25"/><line x1="6.1" y1="-1.6" x2="6.1" y2="1" stroke="#909090" stroke-width="1.2"/><line x1="12.4" y1="-1.6" x2="12.4" y2="1" stroke="#909090" stroke-width="1.2"/><text x="9.3" y="10.2" font-family="Liberation Sans, sans-serif" font-size="10" fill="#b4b4b4" text-anchor="middle">10</text></g>
<g transform="translate(152.8,786.7)"><rect x="0.6" y="0.6" width="17.4" height="11.6" rx="2.8" fill="#fff" stroke="#909090" stroke-width="1.25"/><line x1="6.1" y1="-1.6" x2="6.1" y2="1" stroke="#909090" stroke-width="1.2"/><line x1="12.4" y1="-1.6" x2="12.4" y2="1" stroke="#909090" stroke-width="1.2"/><text x="9.3" y="10.2" font-family="Liberation Sans, sans-serif" font-size="10" fill="#b4b4b4" text-anchor="middle">2</text></g>
<g transform="translate(270.4,786.7)"><rect x="0.6" y="0.6" width="17.4" height="11.6" rx="2.8" fill="#fff" stroke="#909090" stroke-width="1.25"/><line x1="6.1" y1="-1.6" x2="6.1" y2="1" stroke="#909090" stroke-width="1.2"/><line x1="12.4" y1="-1.6" x2="12.4" y2="1" stroke="#909090" stroke-width="1.2"/><text x="9.3" y="10.2" font-family="Liberation Sans, sans-serif" font-size="10" fill="#b4b4b4" text-anchor="middle">3</text></g>
<g transform="translate(329.3,786.7)"><rect x="0.6" y="0.6" width="17.4" height="11.6" rx="2.8" fill="#fff" stroke="#909090" stroke-width="1.25"/><line x1="6.1" y1="-1.6" x2="6.1" y2="1" stroke="#909090" stroke-width="1.2"/><line x1="12.4" y1="-1.6" x2="12.4" y2="1" stroke="#909090" stroke-width="1.2"/><text x="9.3" y="10.2" font-family="Liberation Sans, sans-serif" font-size="10" fill="#b4b4b4" text-anchor="middle">9</text></g>
<g transform="translate(447.8,786.7)"><rect x="0.6" y="0.6" width="17.4" height="11.6" rx="2.8" fill="#fff" stroke="#909090" stroke-width="1.25"/><line x1="6.1" y1="-1.6" x2="6.1" y2="1" stroke="#909090" stroke-width="1.2"/><line x1="12.4" y1="-1.6" x2="12.4" y2="1" stroke="#909090" stroke-width="1.2"/><text x="9.3" y="10.2" font-family="Liberation Sans, sans-serif" font-size="10" fill="#b4b4b4" text-anchor="middle">6</text></g>
<g transform="translate(506.8,786.7)"><rect x="0.6" y="0.6" width="17.4" height="11.6" rx="2.8" fill="#fff" stroke="#909090" stroke-width="1.25"/><line x1="6.1" y1="-1.6" x2="6.1" y2="1" stroke="#909090" stroke-width="1.2"/><line x1="12.4" y1="-1.6" x2="12.4" y2="1" stroke="#909090" stroke-width="1.2"/><text x="9.3" y="10.2" font-family="Liberation Sans, sans-serif" font-size="10" fill="#b4b4b4" text-anchor="middle">7</text></g>
<g transform="translate(565.8,786.7)"><rect x="0.6" y="0.6" width="17.4" height="11.6" rx="2.8" fill="#fff" stroke="#909090" stroke-width="1.25"/><line x1="6.1" y1="-1.6" x2="6.1" y2="1" stroke="#909090" stroke-width="1.2"/><line x1="12.4" y1="-1.6" x2="12.4" y2="1" stroke="#909090" stroke-width="1.2"/><text x="9.3" y="10.2" font-family="Liberation Sans, sans-serif" font-size="10" fill="#b4b4b4" text-anchor="middle">7</text></g>
<g transform="translate(624.8,786.7)"><rect x="0.6" y="0.6" width="17.4" height="11.6" rx="2.8" fill="#fff" stroke="#909090" stroke-width="1.25"/><line x1="6.1" y1="-1.6" x2="6.1" y2="1" stroke="#909090" stroke-width="1.2"/><line x1="12.4" y1="-1.6" x2="12.4" y2="1" stroke="#909090" stroke-width="1.2"/><text x="9.3" y="10.2" font-family="Liberation Sans, sans-serif" font-size="10" fill="#b4b4b4" text-anchor="middle">5</text></g>
<g transform="translate(742.3,786.7)"><rect x="0.6" y="0.6" width="17.4" height="11.6" rx="2.8" fill="#fff" stroke="#909090" stroke-width="1.25"/><line x1="6.1" y1="-1.6" x2="6.1" y2="1" stroke="#909090" stroke-width="1.2"/><line x1="12.4" y1="-1.6" x2="12.4" y2="1" stroke="#909090" stroke-width="1.2"/><text x="9.3" y="10.2" font-family="Liberation Sans, sans-serif" font-size="10" fill="#b4b4b4" text-anchor="middle">11</text></g>
<g transform="translate(801.5,786.7)"><rect x="0.6" y="0.6" width="17.4" height="11.6" rx="2.8" fill="#fff" stroke="#909090" stroke-width="1.25"/><line x1="6.1" y1="-1.6" x2="6.1" y2="1" stroke="#909090" stroke-width="1.2"/><line x1="12.4" y1="-1.6" x2="12.4" y2="1" stroke="#909090" stroke-width="1.2"/><text x="9.3" y="10.2" font-family="Liberation Sans, sans-serif" font-size="10" fill="#b4b4b4" text-anchor="middle">5</text></g>
<g transform="translate(210.2,783.6)" opacity="0.62"><rect width="20.5" height="15" fill="#fff"/><rect x="0" y="0.00" width="20.5" height="1.15" fill="#d22"/><rect x="0" y="2.31" width="20.5" height="1.15" fill="#d22"/><rect x="0" y="4.62" width="20.5" height="1.15" fill="#d22"/><rect x="0" y="6.92" width="20.5" height="1.15" fill="#d22"/><rect x="0" y="9.23" width="20.5" height="1.15" fill="#d22"/><rect x="0" y="11.54" width="20.5" height="1.15" fill="#d22"/><rect x="0" y="13.85" width="20.5" height="1.15" fill="#d22"/><rect width="9" height="8.1" fill="#4a5a8e"/></g>
<g transform="translate(387.8,783.6)" opacity="0.66"><clipPath id="ukc"><rect width="20.5" height="15"/></clipPath><g clip-path="url(#ukc)"><rect width="20.5" height="15" fill="#2a3f74"/><path d="M0,0 L20.5,15 M20.5,0 L0,15" stroke="#fff" stroke-width="3"/><path d="M0,0 L20.5,15 M20.5,0 L0,15" stroke="#d22" stroke-width="0.9"/><path d="M10.25,0 V15 M0,7.5 H20.5" stroke="#fff" stroke-width="4.6"/><path d="M10.25,0 V15 M0,7.5 H20.5" stroke="#d8202c" stroke-width="2.6"/></g></g>
<g transform="translate(682.8,783.6)" opacity="0.62"><rect width="20.5" height="15" fill="#fff"/><rect x="0" y="0.00" width="20.5" height="1.15" fill="#d22"/><rect x="0" y="2.31" width="20.5" height="1.15" fill="#d22"/><rect x="0" y="4.62" width="20.5" height="1.15" fill="#d22"/><rect x="0" y="6.92" width="20.5" height="1.15" fill="#d22"/><rect x="0" y="9.23" width="20.5" height="1.15" fill="#d22"/><rect x="0" y="11.54" width="20.5" height="1.15" fill="#d22"/><rect x="0" y="13.85" width="20.5" height="1.15" fill="#d22"/><rect width="9" height="8.1" fill="#4a5a8e"/></g>
</svg>
<div class="abs" id="hdr"></div>
<svg class="abs" style="left:6px;top:4.9px" width="23" height="22.6" viewBox="0 0 23 22"><rect x="0.3" y="0.3" width="22.2" height="21.2" fill="#f4f4f4"/><path d="M0.5,14.5H22 M0.5,17.5H22 M0.5,11.5H22" stroke="#e2e2e2" stroke-width="0.8"/><polyline points="2.5,17 8.5,8 13,11.5 19.5,4" fill="none" stroke="#14909c" stroke-width="2.2" stroke-linejoin="miter"/></svg>
<div class="abs" id="title">GERMANY 40, DAILY</div>
<svg class="abs" style="left:198px;top:8px" width="18" height="18" viewBox="0 0 18 18"><circle cx="7" cy="7.2" r="4.2" fill="none" stroke="#fff" stroke-width="1.5"/><line x1="10" y1="10.5" x2="14.5" y2="15" stroke="#fff" stroke-width="2" stroke-linecap="round"/></svg>
<svg class="abs" style="left:905px;top:0px" width="77" height="34" viewBox="905 0 77 34"><g stroke="#e4e4e4" fill="none"><line x1="916" y1="22.5" x2="929" y2="22.5" stroke-width="1.7"/><rect x="939.2" y="14.4" width="7.7" height="7.9" stroke-width="1.7"/><path d="M950.3,8.3V14.5 M947.2,11.4H953.4" stroke-width="1.6"/><path d="M943.4,18.4H950" stroke-width="1.5"/><path d="M949.6,16.2L952.9,18.4L949.6,20.6Z" fill="#e4e4e4" stroke="none"/><path d="M962.4,8.5L976.4,23 M976.4,8.5L962.4,23" stroke-width="1.3" stroke="#d8d8d8"/></g></svg>

<div class="abs tb" style="left:10.5px;letter-spacing:0.35px">Daily</div><div class="abs arr" style="left:46.9px"></div>
<div class="abs tb" style="left:78.7px;letter-spacing:0.32px">Technical</div><div class="abs arr" style="left:143.8px"></div>
<div class="abs tb" style="left:175px;letter-spacing:0.1px">Display</div><div class="abs arr" style="left:226.2px"></div>
<div class="abs tb" style="left:257.3px;letter-spacing:0.8px">More</div><div class="abs arr" style="left:295.1px"></div>
<svg class="abs" style="left:320px;top:40px" width="140" height="34" viewBox="320 40 140 34">
<path d="M327.9,59.4V49.6Q327.9,48.3 329.2,48.3H332.6L335.2,50.8H338.6Q339.6,50.8 339.6,52.2" fill="none" stroke="#333" stroke-width="1.1"/>
<path d="M332.4,53.1H343L339.7,60.2H328.4Q328.6,60.2 329.2,59.6Z" fill="#333"/>
<path d="M364.2,46.8H375.2L377.7,49.3V60.1Q377.7,61.7 376.1,61.7H364.2Q362.6,61.7 362.6,60.1V48.4Q362.6,46.8 364.2,46.8Z" fill="#333"/>
<rect x="366.3" y="47.9" width="7.6" height="3.9" fill="#fff"/><circle cx="371.9" cy="49.8" r="0.9" fill="#444"/>
<rect x="364.5" y="53.9" width="11.2" height="6.4" rx="1.2" fill="#fff"/>
<rect x="396.2" y="50.9" width="15.5" height="4.2" fill="#111"/>
<rect x="432" y="51" width="16" height="4" fill="#111"/><rect x="438" y="45" width="4" height="16" fill="#111"/>
<line x1="410.3" y1="65" x2="410.3" y2="72.6" stroke="#dcdcdc" stroke-width="1"/><line x1="447.3" y1="65" x2="447.3" y2="72.6" stroke="#dcdcdc" stroke-width="1"/>
</svg>
<div class="abs" style="left:666.7px;top:47.5px;font-size:13px;color:#2a2a2a;letter-spacing:0.35px;line-height:16px">CURRENT PRICE:</div>
<div class="abs" style="left:800.4px;top:42.3px;width:85.2px;height:23.3px;background:#c22a3c"></div>
<div class="abs" style="left:897.3px;top:42.3px;width:84.7px;height:23.3px;background:#1b8e9a"></div>
<svg class="abs" style="left:804.6px;top:42.6px" width="10.6" height="10.6" viewBox="0 0 10 10"><path d="M3.4,0.3H6.6V4.6H9.2L5,9.4L0.8,4.6H3.4Z" fill="#8c1422"/></svg>
<svg class="abs" style="left:968.2px;top:42.8px" width="10.6" height="10.6" viewBox="0 0 10 10"><path d="M3.4,9.4H6.6V5.1H9.2L5,0.3L0.8,5.1H3.4Z" fill="#0d5f68"/></svg>
<div class="abs" style="left:815.5px;top:45px;font-size:14.5px;color:#fff;letter-spacing:0.72px;line-height:17px">22789<span style="letter-spacing:1.2px">.</span><span style="font-size:9.6px;font-weight:bold;letter-spacing:0">8</span></div>
<div class="abs" style="left:912.5px;top:45px;font-size:14.5px;color:#fff;letter-spacing:0.72px;line-height:17px">22791<span style="letter-spacing:1.2px">.</span><span style="font-size:9.6px;font-weight:bold;letter-spacing:0">2</span></div>

<svg class="abs" style="left:0;top:525px" width="300" height="115" viewBox="0 525 300 115"><rect x="3" y="529.3" width="112.5" height="25" fill="#fff" fill-opacity="0.9"/><rect x="121.5" y="529.3" width="141.5" height="25" fill="#fff" fill-opacity="0.9"/><text x="8.6" y="545.7" font-family="Liberation Sans, sans-serif" font-size="11" font-weight="bold" fill="#444" textLength="29.8" lengthAdjust="spacingAndGlyphs">VWAP</text><text x="43" y="545.7" font-family="Liberation Sans, sans-serif" font-size="11" font-weight="normal" fill="#444" textLength="37.5" lengthAdjust="spacingAndGlyphs">20 1 2 3</text><text x="128.4" y="545.7" font-family="Liberation Sans, sans-serif" font-size="11" font-weight="bold" fill="#444" textLength="66.4" lengthAdjust="spacingAndGlyphs">AUTO TREND</text><text x="199.1" y="545.7" font-family="Liberation Sans, sans-serif" font-size="11" font-weight="normal" fill="#444" textLength="22.5" lengthAdjust="spacingAndGlyphs">3 3 1</text><text x="8.6" y="629.6" font-family="Liberation Sans, sans-serif" font-size="11" font-weight="bold" fill="#444" textLength="15.5" lengthAdjust="spacingAndGlyphs">RSI</text><text x="28.5" y="629.6" font-family="Liberation Sans, sans-serif" font-size="11" font-weight="normal" fill="#444" textLength="10.9" lengthAdjust="spacingAndGlyphs">14</text><g transform="translate(92,542.7)" fill="none" stroke="#8c8c8c"><circle r="3.3" stroke-width="2.2"/><line x1="3.80" y1="0.00" x2="5.90" y2="0.00" stroke-width="2.3"/><line x1="2.69" y1="2.69" x2="4.17" y2="4.17" stroke-width="2.3"/><line x1="0.00" y1="3.80" x2="0.00" y2="5.90" stroke-width="2.3"/><line x1="-2.69" y1="2.69" x2="-4.17" y2="4.17" stroke-width="2.3"/><line x1="-3.80" y1="0.00" x2="-5.90" y2="0.00" stroke-width="2.3"/><line x1="-2.69" y1="-2.69" x2="-4.17" y2="-4.17" stroke-width="2.3"/><line x1="-0.00" y1="-3.80" x2="-0.00" y2="-5.90" stroke-width="2.3"/><line x1="2.69" y1="-2.69" x2="4.17" y2="-4.17" stroke-width="2.3"/></g><path d="M105.9,539.4L112.9,546.4M112.9,539.4L105.9,546.4" stroke="#8c8c8c" stroke-width="2.4" fill="none"/><g transform="translate(234.9,542.7)" fill="none" stroke="#8c8c8c"><circle r="3.3" stroke-width="2.2"/><line x1="3.80" y1="0.00" x2="5.90" y2="0.00" stroke-width="2.3"/><line x1="2.69" y1="2.69" x2="4.17" y2="4.17" stroke-width="2.3"/><line x1="0.00" y1="3.80" x2="0.00" y2="5.90" stroke-width="2.3"/><line x1="-2.69" y1="2.69" x2="-4.17" y2="4.17" stroke-width="2.3"/><line x1="-3.80" y1="0.00" x2="-5.90" y2="0.00" stroke-width="2.3"/><line x1="-2.69" y1="-2.69" x2="-4.17" y2="-4.17" stroke-width="2.3"/><line x1="-0.00" y1="-3.80" x2="-0.00" y2="-5.90" stroke-width="2.3"/><line x1="2.69" y1="-2.69" x2="4.17" y2="-4.17" stroke-width="2.3"/></g><path d="M248.5,539.4L255.5,546.4M255.5,539.4L248.5,546.4" stroke="#8c8c8c" stroke-width="2.4" fill="none"/><g transform="translate(51,626.5)" fill="none" stroke="#8c8c8c"><circle r="3.3" stroke-width="2.2"/><line x1="3.80" y1="0.00" x2="5.90" y2="0.00" stroke-width="2.3"/><line x1="2.69" y1="2.69" x2="4.17" y2="4.17" stroke-width="2.3"/><line x1="0.00" y1="3.80" x2="0.00" y2="5.90" stroke-width="2.3"/><line x1="-2.69" y1="2.69" x2="-4.17" y2="4.17" stroke-width="2.3"/><line x1="-3.80" y1="0.00" x2="-5.90" y2="0.00" stroke-width="2.3"/><line x1="-2.69" y1="-2.69" x2="-4.17" y2="-4.17" stroke-width="2.3"/><line x1="-0.00" y1="-3.80" x2="-0.00" y2="-5.90" stroke-width="2.3"/><line x1="2.69" y1="-2.69" x2="4.17" y2="-4.17" stroke-width="2.3"/></g><path d="M65.0,623.0L72.0,630.0M72.0,623.0L65.0,630.0" stroke="#8c8c8c" stroke-width="2.4" fill="none"/><path d="M91.4,632.5V621.2 M85.8,626.8L91.4,621L97,626.8" stroke="#444" stroke-width="1.25" fill="none"/></svg>
</body></html>
